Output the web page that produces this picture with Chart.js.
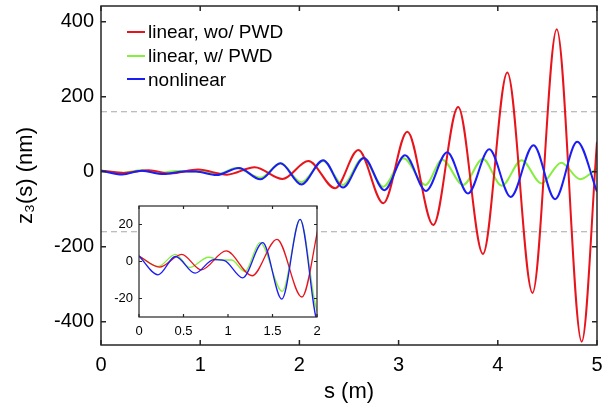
<!DOCTYPE html>
<html>
<head>
<meta charset="utf-8">
<script src="https://cdn.jsdelivr.net/npm/chart.js@4"></script>
<style>
  html, body { margin: 0; padding: 0; background: #fff; }
  #wrap { position: relative; width: 613px; height: 409px; font-family: "Liberation Sans", Arial, sans-serif; }
  #main { position: absolute; left: 0; top: 0; }
  #inset { position: absolute; left: 100px; top: 198px; }
  #legend { position: absolute; left: 127px; top: 20px; font-size: 19px; line-height: 23.8px; color: #000; }
  .row { display: flex; align-items: center; white-space: nowrap; }
  .swatch { display: inline-block; width: 18px; height: 2px; margin-right: 3px; }
</style>
</head>
<body>
<div id="wrap">
  <canvas id="main" width="613" height="409"></canvas>
  <canvas id="inset" width="225" height="147"></canvas>
  <div id="legend"></div>
</div>
<script>
// ===== data =====
const redS   = [0, 0.23, 0.48, 0.70, 0.98, 1.27, 1.55, 1.83, 2.09, 2.36, 2.594, 2.846, 3.088, 3.35, 3.60, 3.85, 4.096, 4.35, 4.594, 4.846, 5.0]
const redZ   = [3, -3, 3.9, -4.5, 5.7, -7.7, 12, -19.2, 28.5, -44, 58, -84, 107, -142, 173, -219, 265, -323, 380, -453, 80]

const greenS = [0, 0.214, 0.41, 0.57, 0.78, 0.92, 1.04, 1.19, 1.36, 1.61, 1.81, 2.02, 2.24, 2.44, 2.64, 2.846, 3.05, 3.27, 3.44, 3.65, 3.85, 4.04, 4.24, 4.44, 4.64, 4.83, 5.0]
const greenZ = [3, -2.7, 3.9, -3.2, 2.3, 0.8, 0.8, -5.4, 10.2, -16.1, 22.8, -28, 28.5, -35, 36, -40, 36, -35, 32, -35, 34, -37, 31, -31, 24, -20, 9]

const blueS  = [0, 0.214, 0.41, 0.63, 0.84, 0.96, 1.165, 1.39, 1.605, 1.81, 2.02, 2.24, 2.44, 2.65, 2.856, 3.065, 3.276, 3.49, 3.70, 3.914, 4.13, 4.36, 4.577, 4.80, 5.0]
const blueZ  = [3, -7.2, 2.7, -6.3, 1, 0.5, -8.8, 10.2, -20.3, 22.8, -34, 31, -42, 37, -49, 44, -51, 52, -58, 60, -67, 71, -73, 80, -53]

const dashS = [0, 5]
const dashHi = [160, 160]
const dashLo = [-160, -160]

const seriesNames = ['linear, wo/ PWD', 'linear, w/ PWD', 'nonlinear']
const seriesColors = ['#e8141c', '#86ee3e', '#1c1cf5']

const mainXTicks = [0, 1, 2, 3, 4, 5]
const mainYTicks = [-400, -200, 0, 200, 400]
const insetXTicks = [0, 0.5, 1, 1.5, 2]
const insetYTicks = [-20, 0, 20]

const pts = (xs, ys) => xs.map((x, i) => ({ x, y: ys[i] }))

// box + inward ticks, MATLAB style
const boxTicks = {
  id: 'boxTicks',
  beforeDraw(chart) {
    const { ctx, chartArea: a } = chart
    ctx.save()
    ctx.fillStyle = '#fff'
    ctx.fillRect(a.left, a.top, a.right - a.left, a.bottom - a.top)
    ctx.restore()
  },
  afterDraw(chart, args, opts) {
    const { ctx, chartArea: a, scales: { x, y } } = chart
    const L = opts.tickLength
    ctx.save()
    ctx.strokeStyle = '#262626'
    ctx.lineWidth = opts.lineWidth
    ctx.beginPath()
    x.ticks.forEach(t => {
      const p = x.getPixelForValue(t.value)
      ctx.moveTo(p, a.bottom); ctx.lineTo(p, a.bottom - L)
      ctx.moveTo(p, a.top); ctx.lineTo(p, a.top + L)
    })
    y.ticks.forEach(t => {
      const p = y.getPixelForValue(t.value)
      ctx.moveTo(a.left, p); ctx.lineTo(a.left + L, p)
      ctx.moveTo(a.right, p); ctx.lineTo(a.right - L, p)
    })
    ctx.stroke()
    ctx.strokeRect(a.left, a.top, a.right - a.left, a.bottom - a.top)
    ctx.restore()
  }
}

function curveSets(width) {
  return [
    { data: pts(redS, redZ), borderColor: seriesColors[0], borderWidth: width, pointRadius: 0, cubicInterpolationMode: 'monotone', order: 1 },
    { data: pts(greenS, greenZ), borderColor: seriesColors[1], borderWidth: width, pointRadius: 0, cubicInterpolationMode: 'monotone', order: 2 },
    { data: pts(blueS, blueZ), borderColor: seriesColors[2], borderWidth: width, pointRadius: 0, cubicInterpolationMode: 'monotone', order: 0 }
  ]
}

const font = 'Liberation Sans, Arial, sans-serif'

// fix the axis size and drop the label overflow padding
const fitX = h => s => { s.height = h; s.paddingLeft = 0; s.paddingRight = 0 }
const fitY = w => s => { s.width = w; s.paddingTop = 0; s.paddingBottom = 0 }
const plain = v => String(v)

new Chart(document.getElementById('main'), {
  type: 'line',
  data: {
    datasets: [
      { data: pts(dashS, dashHi), borderColor: '#a8a8a8', borderWidth: 1.2, borderDash: [6, 4], pointRadius: 0, order: 5 },
      { data: pts(dashS, dashLo), borderColor: '#a8a8a8', borderWidth: 1.2, borderDash: [6, 4], pointRadius: 0, order: 5 },
      ...curveSets(2)
    ]
  },
  options: {
    responsive: false, animation: false,
    layout: { padding: { top: 6, right: 16, left: 0, bottom: 0 } },
    plugins: { legend: { display: false }, tooltip: { enabled: false }, boxTicks: { tickLength: 5, lineWidth: 1.5 } },
    scales: {
      x: {
        type: 'linear', min: 0, max: 5,
        afterBuildTicks: s => { s.ticks = mainXTicks.map(v => ({ value: v })) },
        afterFit: fitX(64),
        grid: { display: false, drawTicks: false }, border: { display: false },
        ticks: { color: '#000', font: { family: font, size: 20 }, padding: 8, maxRotation: 0, callback: plain },
        title: { display: true, text: 's (m)', color: '#000', font: { family: font, size: 22 }, padding: { top: 0, bottom: 4 } }
      },
      y: {
        type: 'linear', min: -462, max: 442,
        afterBuildTicks: s => { s.ticks = mainYTicks.map(v => ({ value: v })) },
        afterFit: fitY(101),
        grid: { display: false, drawTicks: false }, border: { display: false },
        ticks: { color: '#000', font: { family: font, size: 20 }, padding: 7, callback: plain },
        title: { display: true, text: 'z₃(s) (nm)', color: '#000', font: { family: font, size: 22 }, padding: { top: 13, bottom: 0 } }
      }
    }
  },
  plugins: [boxTicks]
})

new Chart(document.getElementById('inset'), {
  type: 'line',
  data: { datasets: curveSets(1.3) },
  options: {
    responsive: false, animation: false,
    layout: { padding: { top: 8, right: 8, left: 0, bottom: 0 } },
    plugins: { legend: { display: false }, tooltip: { enabled: false }, boxTicks: { tickLength: 3, lineWidth: 1.2 } },
    scales: {
      x: {
        type: 'linear', min: 0, max: 2,
        afterBuildTicks: s => { s.ticks = insetXTicks.map(v => ({ value: v })) },
        afterFit: fitX(28),
        grid: { display: false, drawTicks: false }, border: { display: false },
        ticks: { color: '#000', font: { family: font, size: 13 }, padding: 7, maxRotation: 0, callback: plain }
      },
      y: {
        type: 'linear', min: -30, max: 30,
        afterBuildTicks: s => { s.ticks = insetYTicks.map(v => ({ value: v })) },
        afterFit: fitY(39),
        grid: { display: false, drawTicks: false }, border: { display: false },
        ticks: { color: '#000', font: { family: font, size: 13 }, padding: 6, callback: plain }
      }
    }
  },
  plugins: [boxTicks]
})

// legend
document.getElementById('legend').innerHTML = seriesNames.map((n, i) =>
  `<div class="row"><span class="swatch" style="background:${seriesColors[i]}"></span>${n}</div>`).join('')
</script>
</body>
</html>
